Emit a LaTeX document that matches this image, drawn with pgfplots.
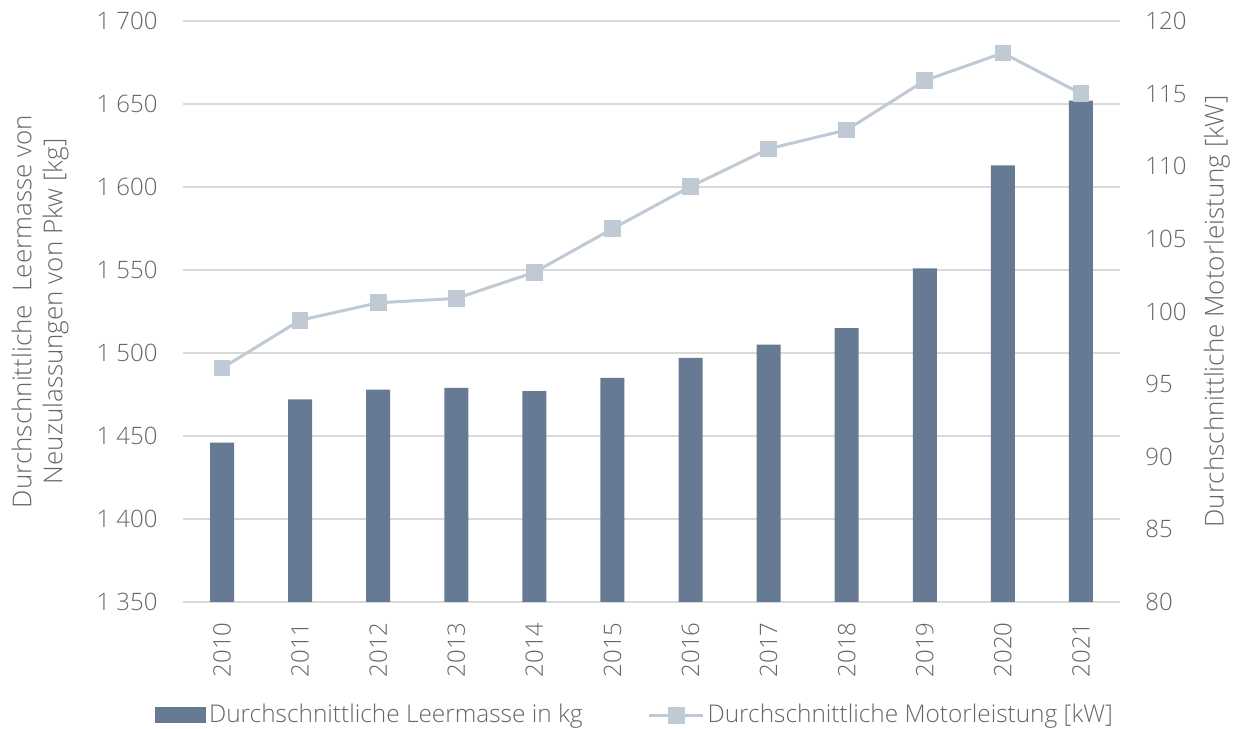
\documentclass[border=0pt]{standalone}
\usepackage{fontspec}
\setmainfont{Open Sans Light}
\usepackage{pgfplots}
\usepackage{pgfplotstable}
\pgfplotsset{compat=1.18}
\definecolor{barc}{HTML}{667B93}
\definecolor{linec}{HTML}{BFCAD4}
\definecolor{gridc}{HTML}{D9D9D9}
\definecolor{txt}{HTML}{666666}

\pgfplotstableread{
x mass power
0 1446 96.1
1 1472 99.4
2 1478 100.6
3 1479 100.9
4 1477 102.7
5 1485 105.7
6 1497 108.6
7 1505 111.2
8 1515 112.5
9 1551 115.9
10 1613 117.8
11 1652 115.0
}\data

\begin{document}
\begin{tikzpicture}
\pgfplotsset{
  common/.style={
    width=468.5pt, height=290.5pt, scale only axis,
    at={(0pt,0pt)}, anchor=south west,
    xmin=-0.5, xmax=11.5,
    xtick={0,...,11},
    tick label style={font=\fontsize{12}{14}\selectfont, text=txt, inner sep=0pt},
    label style={font=\fontsize{13}{15.5}\selectfont, text=txt},
    axis line style={draw=none},
    major tick length=0pt,
    yticklabel shift=12.5pt,
    xticklabel shift=10pt,
    /pgf/number format/assume math mode=true,
    /pgf/number format/1000 sep={\ },
  }
}
\begin{axis}[common,
  ymin=1350, ymax=1700, ytick={1350,1400,...,1700},
  ymajorgrids, grid style={draw=gridc, line width=1pt},
  xticklabels={2010,2011,2012,2013,2014,2015,2016,2017,2018,2019,2020,2021},
  xticklabel style={rotate=90, anchor=east},
  ylabel={Durchschnittliche\ \ Leermasse von\\Neuzulassungen von Pkw [kg]},
  ylabel style={align=center, at={(axis description cs:-0.1526,0.5)}, anchor=center},
]
\addplot[ybar, bar width=12pt, fill=barc, draw=none] table[x=x,y=mass]{\data};
\end{axis}
\begin{axis}[common,
  ymin=80, ymax=120, ytick={80,85,...,120},
  axis y line*=right, axis x line=none,
  ylabel={Durchschnittliche Motorleistung [kW]},
  ylabel style={at={(axis description cs:1.1035,0.5)}, anchor=center},
  legend columns=2,
  legend style={at={(axis description cs:0.483,-0.1945)}, anchor=center, draw=none, fill=none,
    font=\fontsize{12.2}{14}\selectfont, text=txt,
    nodes={inner xsep=1.5pt},
    /tikz/every even column/.append style={column sep=31pt}},
  legend cell align=left,
]
\addlegendimage{legend image code/.code={\fill[barc] (0pt,-3.75pt) rectangle (25pt,3.75pt);}}
\addlegendentry{Durchschnittliche Leermasse in kg}
\addplot[linec, line width=1.5pt, mark=square*, mark size=3.4pt, mark options={fill=linec, draw=none},
  legend image code/.code={\draw[linec, line width=1.5pt] (0pt,0pt) -- (27pt,0pt); \fill[linec] (10pt,-3.5pt) rectangle (17pt,3.5pt);}]
  table[x=x,y=power]{\data};
\addlegendentry{Durchschnittliche Motorleistung [kW]}
\end{axis}
\pgfresetboundingbox
\path (-91.5pt,-63.5pt) rectangle (528pt,301pt);
\end{tikzpicture}
\end{document}
